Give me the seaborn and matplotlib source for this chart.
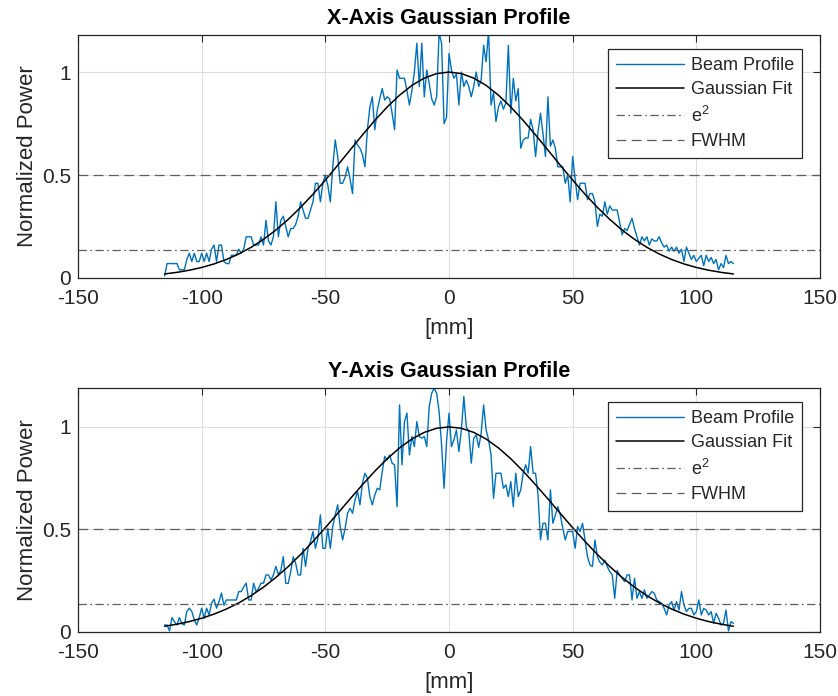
import matplotlib
matplotlib.use("Agg")
import matplotlib.pyplot as plt
import seaborn as sns

# beam profile samples, 1 mm steps from -115 to 115 mm
x_mm = list(range(-115, 116))

x_profile = [
    0.01, 0.07, 0.07, 0.07, 0.07, 0.07, 0.04, 0.04, 0.04, 0.09,
    0.12, 0.08, 0.12, 0.08, 0.08, 0.12, 0.08, 0.12, 0.08, 0.14,
    0.16, 0.08, 0.16, 0.16, 0.08, 0.07, 0.07, 0.11, 0.11, 0.11,
    0.14, 0.12, 0.14, 0.20, 0.20, 0.20, 0.16, 0.16, 0.16, 0.20,
    0.16, 0.28, 0.18, 0.16, 0.20, 0.37, 0.20, 0.28, 0.30, 0.25,
    0.20, 0.24, 0.24, 0.26, 0.30, 0.37, 0.33, 0.29, 0.29, 0.33,
    0.37, 0.46, 0.46, 0.37, 0.46, 0.50, 0.45, 0.37, 0.54, 0.67,
    0.59, 0.46, 0.46, 0.49, 0.54, 0.48, 0.41, 0.67, 0.645, 0.63,
    0.60, 0.54, 0.72, 0.83, 0.88, 0.72, 0.815, 0.87, 0.92, 0.864,
    0.88, 0.87, 0.80, 0.72, 1.01, 0.97, 0.97, 0.97, 0.91, 0.84,
    0.91, 1.00, 1.14, 0.93, 1.14, 0.88, 1.01, 0.945, 0.87, 0.84,
    0.88, 1.19, 1.14, 0.75, 0.78, 1.09, 1.01, 0.97, 0.99, 0.84,
    1.00, 0.93, 0.96, 0.93, 0.88, 0.93, 1.00, 0.93, 0.96, 1.13,
    1.05, 1.20, 0.84, 0.90, 0.76, 0.83, 0.86, 0.82, 0.85, 1.13,
    0.80, 0.97, 0.86, 0.92, 0.63, 0.67, 0.68, 0.68, 0.77, 0.72,
    0.59, 0.71, 0.80, 0.70, 0.59, 0.88, 0.64, 0.67, 0.63, 0.54,
    0.54, 0.54, 0.46, 0.50, 0.37, 0.59, 0.48, 0.38, 0.46, 0.46,
    0.46, 0.38, 0.41, 0.41, 0.37, 0.25, 0.31, 0.30, 0.37, 0.31,
    0.35, 0.33, 0.33, 0.33, 0.27, 0.21, 0.24, 0.23, 0.26, 0.29,
    0.24, 0.20, 0.16, 0.20, 0.18, 0.20, 0.16, 0.19, 0.18, 0.18,
    0.20, 0.17, 0.15, 0.16, 0.13, 0.15, 0.13, 0.15, 0.12, 0.14,
    0.08, 0.15, 0.12, 0.09, 0.11, 0.08, 0.095, 0.11, 0.06, 0.11,
    0.08, 0.10, 0.07, 0.09, 0.04, 0.07, 0.05, 0.11, 0.07, 0.08,
    0.07,
]

y_profile = [
    0.034, 0.034, 0.005, 0.07, 0.05, 0.034, 0.07, 0.04, 0.034, 0.10,
    0.116, 0.10, 0.06, 0.034, 0.07, 0.116, 0.067, 0.116, 0.083, 0.14,
    0.16, 0.116, 0.148, 0.19, 0.13, 0.156, 0.156, 0.156, 0.156, 0.156,
    0.197, 0.197, 0.22, 0.238, 0.156, 0.156, 0.238, 0.197, 0.213, 0.238,
    0.238, 0.278, 0.278, 0.254, 0.278, 0.32, 0.28, 0.30, 0.367, 0.237,
    0.237, 0.294, 0.367, 0.335, 0.278, 0.278, 0.408, 0.32, 0.408, 0.441,
    0.49, 0.408, 0.457, 0.571, 0.408, 0.408, 0.506, 0.408, 0.514, 0.571,
    0.62, 0.514, 0.449, 0.506, 0.579, 0.603, 0.579, 0.644, 0.685, 0.62,
    0.726, 0.774, 0.75, 0.66, 0.62, 0.668, 0.701, 0.693, 0.782, 0.856,
    0.839, 0.863, 0.823, 0.815, 0.611, 1.107, 0.815, 1.026, 1.067, 0.863,
    0.953, 0.904, 1.026, 0.953, 0.945, 0.953, 0.904, 1.099, 1.164, 1.189,
    1.164, 1.075, 0.912, 0.701, 0.928, 1.067, 0.904, 0.937, 0.985, 0.88,
    0.985, 1.148, 1.0, 0.977, 0.823, 0.945, 0.961, 0.90, 0.969, 1.107,
    0.985, 0.937, 0.863, 0.652, 0.774, 0.774, 0.774, 0.701, 0.717, 0.66,
    0.733, 0.611, 0.774, 0.66, 0.693, 0.774, 0.815, 0.774, 0.904, 0.774,
    0.774, 0.668, 0.449, 0.53, 0.53, 0.449, 0.693, 0.53, 0.571, 0.611,
    0.571, 0.506, 0.449, 0.49, 0.49, 0.49, 0.408, 0.514, 0.49, 0.53,
    0.449, 0.367, 0.327, 0.319, 0.449, 0.367, 0.34, 0.327, 0.35, 0.319,
    0.294, 0.278, 0.164, 0.30, 0.278, 0.262, 0.245, 0.278, 0.278, 0.156,
    0.262, 0.164, 0.197, 0.164, 0.205, 0.164, 0.18, 0.197, 0.189, 0.156,
    0.148, 0.14, 0.115, 0.083, 0.132, 0.148, 0.107, 0.148, 0.107, 0.197,
    0.132, 0.099, 0.115, 0.115, 0.083, 0.099, 0.156, 0.083, 0.115, 0.107,
    0.083, 0.099, 0.042, 0.091, 0.067, 0.034, 0.042, 0.107, 0.005, 0.05,
    0.042,
]

# fitted curves, 5 mm steps
fit_mm = list(range(-115, 120, 5))

x_fit = [
    0.0196, 0.0273, 0.0377, 0.0511, 0.0683, 0.0899, 0.1166, 0.1490,
    0.1877, 0.2328, 0.2846, 0.3428, 0.4067, 0.4754, 0.5475, 0.6213,
    0.6946, 0.7651, 0.8303, 0.8878, 0.9353, 0.9707, 0.9926, 1.0,
    0.9926, 0.9707, 0.9353, 0.8878, 0.8303, 0.7651, 0.6946, 0.6213,
    0.5475, 0.4754, 0.4067, 0.3428, 0.2846, 0.2328, 0.1877, 0.1490,
    0.1166, 0.0899, 0.0683, 0.0511, 0.0377, 0.0273, 0.0196,
]

y_fit = [
    0.0280, 0.0379, 0.0507, 0.0669, 0.0871, 0.1119, 0.1418, 0.1772,
    0.2185, 0.2658, 0.3190, 0.3778, 0.4413, 0.5086, 0.5783, 0.6488,
    0.7180, 0.7840, 0.8445, 0.8975, 0.9410, 0.9733, 0.9933, 1.0,
    0.9933, 0.9733, 0.9410, 0.8975, 0.8445, 0.7840, 0.7180, 0.6488,
    0.5783, 0.5086, 0.4413, 0.3778, 0.3190, 0.2658, 0.2185, 0.1772,
    0.1418, 0.1119, 0.0871, 0.0669, 0.0507, 0.0379, 0.0280,
]

e2_level = 0.135
fwhm_level = 0.5

x_ticks = [-150, -100, -50, 0, 50, 100, 150]
y_ticks = [0, 0.5, 1]
y_ticklabels = ["0", "0.5", "1"]

sns.set_style("whitegrid")
plt.rcParams["font.family"] = ["Liberation Sans", "DejaVu Sans"]
plt.rcParams["mathtext.fontset"] = "custom"
plt.rcParams["mathtext.rm"] = "Liberation Sans"
plt.rcParams["mathtext.it"] = "Liberation Sans"
plt.rcParams["axes.unicode_minus"] = False
plt.rcParams["lines.scale_dashes"] = False

dark = "#262626"


def draw(ax, profile, fit, title, ytop):
    sns.lineplot(x=x_mm, y=profile, ax=ax, color="#0072BD", linewidth=1.0,
                 label="Beam Profile")
    sns.lineplot(x=fit_mm, y=fit, ax=ax, color="black", linewidth=1.1,
                 label="Gaussian Fit")
    ax.axhline(e2_level, color="#5e5e5e", linewidth=0.9,
               linestyle=(0, (6, 2.5, 1.2, 2.5)), label="e$^2$")
    ax.axhline(fwhm_level, color="#5e5e5e", linewidth=0.9,
               linestyle=(0, (7, 4)), label="FWHM")

    ax.set_xlim(-150, 150)
    ax.set_ylim(0, ytop)
    ax.set_xticks(x_ticks)
    ax.set_yticks(y_ticks)
    ax.set_yticklabels(y_ticklabels)
    ax.grid(True, color="#dedede", linewidth=0.8)
    ax.tick_params(direction="in", length=5, width=0.8, colors=dark,
                   labelsize=15, top=True, right=True)
    ax.tick_params(axis="x", pad=8)
    ax.tick_params(axis="y", pad=5)
    for sp in ax.spines.values():
        sp.set_color(dark)
        sp.set_linewidth(0.9)
    ax.set_title(title, fontsize=15.5, fontweight="bold", color="black", pad=8)
    ax.set_xlabel("[mm]", fontsize=16, color=dark, labelpad=7)
    ax.set_ylabel("Normalized Power", fontsize=16, color=dark, labelpad=3)

    leg = ax.legend(loc="upper right", bbox_to_anchor=(0.9757, 0.9424),
                    borderaxespad=0, fontsize=13, frameon=True,
                    fancybox=False, framealpha=1, handlelength=3.8,
                    handletextpad=0.35, labelspacing=0.4, borderpad=0.45)
    leg.get_frame().set_edgecolor(dark)
    leg.get_frame().set_linewidth(0.9)


fig = plt.figure(figsize=(8.38, 6.96), dpi=100)
ax1 = fig.add_axes([0.0931, 0.6006, 0.8854, 0.3491])
ax2 = fig.add_axes([0.0931, 0.0920, 0.8854, 0.3506])

draw(ax1, x_profile, x_fit, "X-Axis Gaussian Profile", 1.18)
draw(ax2, y_profile, y_fit, "Y-Axis Gaussian Profile", 1.19)

fig.savefig("out.png", dpi=100)
